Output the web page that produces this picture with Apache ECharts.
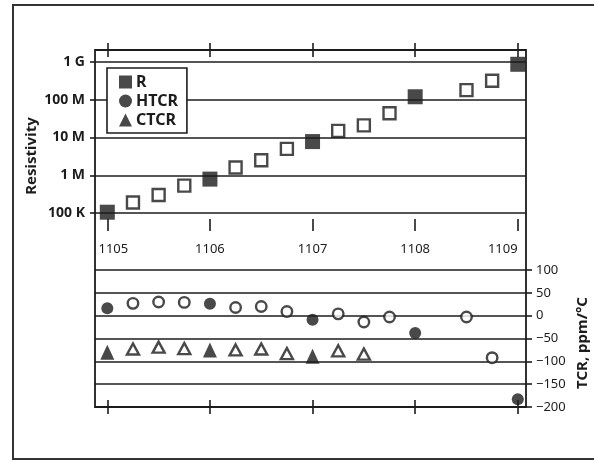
<!DOCTYPE html>
<html>
<head>
<meta charset="utf-8">
<script src="https://cdn.jsdelivr.net/npm/echarts@6/dist/echarts.min.js"></script>
<style>
  html, body { margin: 0; padding: 0; background: #fff; }
  #chart { width: 594px; height: 461px; }
</style>
</head>
<body>
<div id="chart"></div>
<script>
// Paste codes along the x axis
const xTicks = [1105, 1106, 1107, 1108, 1109];

// Resistivity decades shown on the left axis
const decadeTicks = [1e5, 1e6, 1e7, 1e8, 1e9];
const decadeLabels = ['100 K', '1 M', '10 M', '100 M', '1 G'];

// Resistivity (R) of the base pastes and their blends
const resX = [1105, 1105.25, 1105.5, 1105.75, 1106, 1106.25, 1106.5, 1106.75,
              1107, 1107.25, 1107.5, 1107.75, 1108, 1108.5, 1108.75, 1109];
const resValues = [1.05e5, 1.9e5, 3.0e5, 5.3e5, 7.9e5, 1.6e6, 2.5e6, 5.0e6,
                   7.8e6, 1.5e7, 2.1e7, 4.4e7, 1.2e8, 1.8e8, 3.2e8, 8.7e8];

// Hot TCR, ppm/°C
const htcrX = [1105, 1105.25, 1105.5, 1105.75, 1106, 1106.25, 1106.5, 1106.75,
               1107, 1107.25, 1107.5, 1107.75, 1108, 1108.5, 1108.75, 1109];
const htcrValues = [16, 27, 30, 29, 26, 18, 20, 9, -9, 4, -14, -3, -38, -3, -92, -183];

// Cold TCR, ppm/°C
const ctcrX = [1105, 1105.25, 1105.5, 1105.75, 1106, 1106.25, 1106.5, 1106.75,
               1107, 1107.25, 1107.5];
const ctcrValues = [-80, -73, -69, -72, -75, -75, -73, -83, -89, -77, -84];

const INK = '#1c1c1c';
const FONT = '"Noto Sans", "Liberation Sans", sans-serif';
const X_MIN = 1104.88, X_MAX = 1109.08;

// Base pastes (whole codes) are drawn solid, blends drawn hollow
function points(xs, ys, solidSize, hollowSize) {
  return xs.map((x, i) => {
    const solid = Number.isInteger(x);
    return {
      value: [x, ys[i]],
      symbolSize: solid ? solidSize : hollowSize,
      itemStyle: solid
        ? { color: INK, borderColor: INK, borderWidth: 0 }
        : { color: '#fff', borderColor: INK, borderWidth: 2.4 }
    };
  });
}

function xAxisAt(gridIndex, position, inside, len, showLabels) {
  return {
    type: 'value', gridIndex, position, min: X_MIN, max: X_MAX,
    axisLine: { show: false, onZero: false },
    splitLine: { show: false },
    axisTick: { show: true, inside, length: len, customValues: xTicks,
                lineStyle: { color: INK, width: 1.6 } },
    axisLabel: showLabels ? {
      show: true, customValues: xTicks, margin: 18,
      formatter: v => v === 1105 ? '{a|1105}' : v === 1109 ? '{b|1109}' : '{c|' + v + '}',
      rich: {
        a: { fontFamily: FONT, fontSize: 13, color: INK, padding: [0, 0, 0, 12] },
        b: { fontFamily: FONT, fontSize: 13, color: INK, padding: [0, 30, 0, 0] },
        c: { fontFamily: FONT, fontSize: 13, color: INK }
      }
    } : { show: false }
  };
}

const chart = echarts.init(document.getElementById('chart'), null, { renderer: 'canvas' });

chart.setOption({
  backgroundColor: '#fff',
  animation: false,
  grid: [
    { left: 95, top: 50, width: 431, height: 175 },
    { left: 95, top: 270, width: 431, height: 137 }
  ],
  legend: {
    data: ['R', 'HTCR', 'CTCR'],
    orient: 'vertical',
    left: 107, top: 68,
    padding: [6, 9, 5, 12],
    itemWidth: 13, itemHeight: 13, itemGap: 3,
    backgroundColor: '#fff',
    borderColor: INK, borderWidth: 1.6,
    textStyle: { fontFamily: FONT, fontSize: 16, fontWeight: 'bold', color: INK,
                 lineHeight: 16, padding: [0, 0, 0, -1] }
  },
  xAxis: [
    xAxisAt(0, 'top', true, 7, false),
    xAxisAt(0, 'top', false, 7, false),
    xAxisAt(0, 'bottom', true, 6, true),
    xAxisAt(0, 'bottom', false, 6, false),
    xAxisAt(1, 'bottom', true, 7, false),
    xAxisAt(1, 'bottom', false, 7, false)
  ],
  yAxis: [
    {
      type: 'log', gridIndex: 0, position: 'left',
      min: 4.81e4, max: 2.08e9,
      axisLine: { show: false, onZero: false },
      axisTick: { show: true, length: 5, customValues: decadeTicks,
                  lineStyle: { color: INK, width: 1.6 } },
      axisLabel: {
        customValues: decadeTicks, margin: 10,
        fontFamily: FONT, fontSize: 14, fontWeight: 'bold', color: INK,
        formatter: v => decadeLabels[decadeTicks.findIndex(d => Math.abs(Math.log10(d) - Math.log10(v)) < 1e-6)] || ''
      },
      splitLine: { show: true, lineStyle: { color: INK, width: 1.6 } }
    },
    {
      type: 'value', gridIndex: 1, position: 'right',
      min: -200, max: 100, interval: 50,
      axisLine: { show: false, onZero: false },
      axisTick: { show: true, length: 6, lineStyle: { color: INK, width: 1.6 } },
      axisLabel: {
        margin: 10, fontFamily: FONT, fontSize: 13, color: INK,
        formatter: v => v < 0 ? '\u2212' + Math.abs(v) : String(v)
      },
      splitLine: { show: true, lineStyle: { color: INK, width: 1.6 } }
    }
  ],
  series: [
    {
      name: 'R', type: 'scatter', xAxisIndex: 0, yAxisIndex: 0,
      symbol: 'rect', itemStyle: { color: INK },
      data: points(resX, resValues, 15, 12), z: 5
    },
    {
      name: 'HTCR', type: 'scatter', xAxisIndex: 4, yAxisIndex: 1,
      symbol: 'circle', itemStyle: { color: INK },
      data: points(htcrX, htcrValues, 12, 10.5), z: 5
    },
    {
      name: 'CTCR', type: 'scatter', xAxisIndex: 4, yAxisIndex: 1,
      symbol: 'triangle', itemStyle: { color: INK },
      data: points(ctcrX, ctcrValues, [14, 15], [12, 11]), z: 5
    }
  ],
  graphic: [
    { type: 'rect', z: 1, silent: true,
      shape: { x: 13, y: 5, width: 600, height: 454 },
      style: { fill: null, stroke: '#333', lineWidth: 2 } },
    { type: 'rect', z: 10, silent: true,
      shape: { x: 95, y: 50, width: 431, height: 357 },
      style: { fill: null, stroke: INK, lineWidth: 1.8 } },
    { type: 'text', x: 32, y: 156, rotation: Math.PI / 2, z: 10,
      style: { text: 'Resistivity', font: 'bold 15px ' + FONT, fill: INK,
               align: 'center', verticalAlign: 'middle' } },
    { type: 'text', x: 583, y: 343, rotation: Math.PI / 2, z: 10,
      style: { text: 'TCR, ppm/°C', font: 'bold 15px ' + FONT, fill: INK,
               align: 'center', verticalAlign: 'middle' } }
  ]
});
</script>
</body>
</html>
